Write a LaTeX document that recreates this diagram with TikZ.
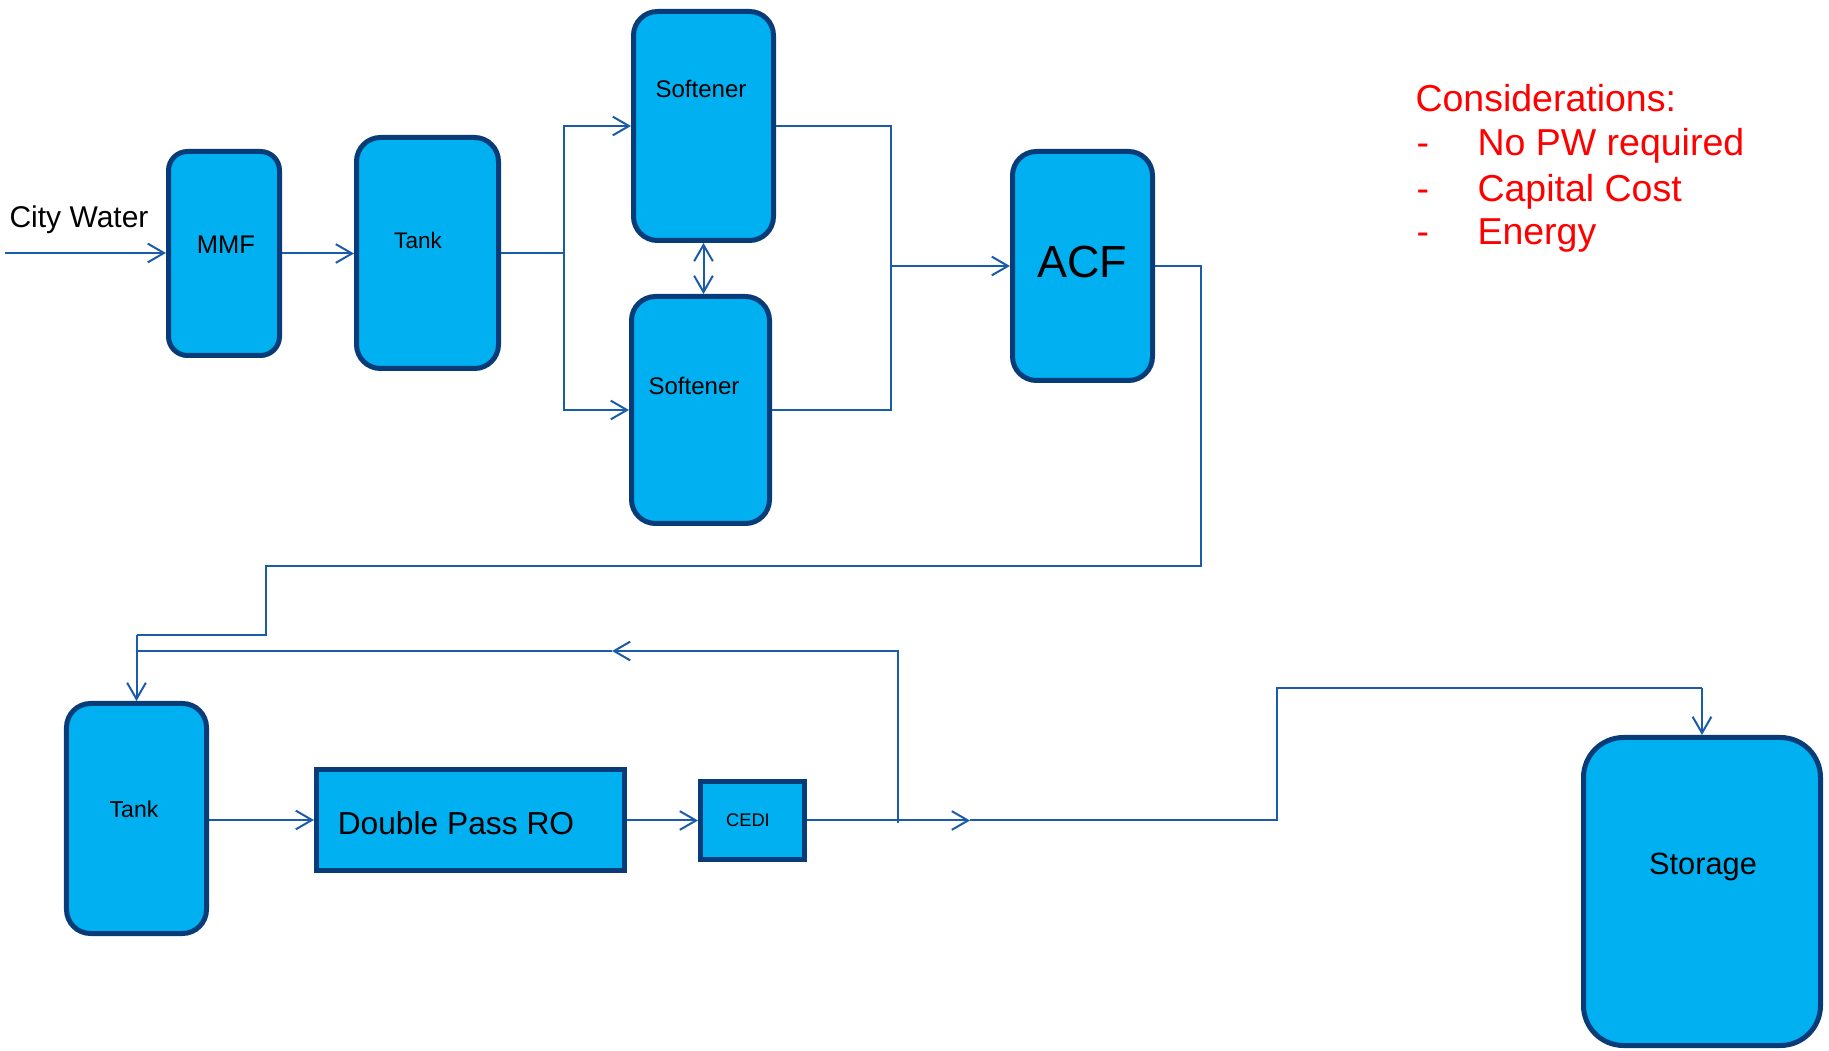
\documentclass[tikz,border=0pt]{standalone}
\usepackage{fontspec}
\setmainfont{Liberation Sans}
\usetikzlibrary{arrows.meta}
\definecolor{boxfill}{HTML}{00B0F0}
\definecolor{boxline}{HTML}{073C78}
\definecolor{connline}{HTML}{1A5CA8}
\definecolor{notered}{HTML}{FF0000}
\tikzset{
  vessel/.style={draw=boxline, fill=boxfill, line width=2pt, inner sep=0pt, rounded corners=9.6pt},
  block/.style={draw=boxline, fill=boxfill, line width=2pt, inner sep=0pt},
  conn/.style={draw=connline, line width=0.8pt},
  barb/.tip={Straight Barb[length=6.5pt,width=7.5pt]},
  flowarrow/.style={-barb},
  lbl/.style={anchor=base, inner sep=0pt, text=black},
  note/.style={anchor=base west, inner sep=0pt, text=notered, font=\fontsize{15}{18}\selectfont}
}
\begin{document}
\begin{tikzpicture}[x=0.4pt,y=-0.4pt]
\useasboundingbox (0,0) rectangle (1829,1051);

% vessels
\node[vessel, minimum width=44.4pt, minimum height=81.6pt, rounded corners=7.6pt] (mmf) at (224,253.5) {};
\node[vessel, minimum width=56.8pt, minimum height=92.4pt] (tank1) at (427.5,253) {};
\node[vessel, minimum width=56pt, minimum height=91.6pt] (soft1) at (703.5,126) {};
\node[vessel, minimum width=55.2pt, minimum height=90.8pt] (soft2) at (700.5,410) {};
\node[vessel, minimum width=56pt, minimum height=91.6pt] (acf) at (1082.5,266) {};
\node[vessel, minimum width=56pt, minimum height=92pt] (tank2) at (136.5,818.5) {};
\node[block, minimum width=123.2pt, minimum height=40.4pt] (dpro) at (470.5,820) {};
\node[block, minimum width=41.6pt, minimum height=31.2pt] (cedi) at (752.5,820.5) {};
\node[vessel, minimum width=94.8pt, minimum height=123.2pt, rounded corners=16pt] (storage) at (1702,891.5) {};

% labels
\node[lbl, font=\fontsize{12}{14}\selectfont] (cwt) at (79,228) {City Water};
\node[lbl, font=\fontsize{10.2}{12}\selectfont] (mmft) at (226,254) {MMF};
\node[lbl, font=\fontsize{9}{11}\selectfont] (tank1t) at (418,249) {Tank};
\node[lbl, font=\fontsize{9.6}{11}\selectfont] (soft1t) at (701,98) {Softener};
\node[lbl, font=\fontsize{9.6}{11}\selectfont] (soft2t) at (694,395) {Softener};
\node[lbl, font=\fontsize{18}{21}\selectfont] (acft) at (1082,278) {ACF};
\node[lbl, font=\fontsize{9.2}{11}\selectfont] (tank2t) at (134,818) {Tank};
\node[lbl, font=\fontsize{12.7}{15}\selectfont] (dprot) at (456,835) {Double Pass RO};
\node[lbl, font=\fontsize{7.3}{9}\selectfont] (cedit) at (748,827) {CEDI};
\node[lbl, font=\fontsize{12.3}{14}\selectfont] (storaget) at (1703,875) {Storage};

% considerations
\node[note] (cons) at (1415,112) {Considerations:};
\node[note] (d1) at (1416,156) {-};
\node[note] (i1) at (1477,156) {No PW required};
\node[note] (d2) at (1416,202) {-};
\node[note] (i2) at (1477,202) {Capital Cost};
\node[note] (d3) at (1416,245) {-};
\node[note] (i3) at (1477,245) {Energy};

% connectors, first line
\coordinate (cw) at (5,253);
\draw[conn,flowarrow] (cw) -- (cw -| mmf.west);
\draw[conn,flowarrow] (mmf.east) -- (mmf.east -| tank1.west);
\coordinate (sp) at (564,253);
\draw[conn] (tank1.east) -- (sp);
\draw[conn,flowarrow] (sp) |- (soft1.west);
\draw[conn,flowarrow] (sp) |- (soft2.west);
\draw[conn,barb-barb] (soft1.south) -- (soft1.south |- soft2.north);
\coordinate (jn) at (891,266);
\draw[conn] (soft1.east) -| (jn);
\draw[conn] (soft2.east) -| (jn);
\draw[conn,flowarrow] (jn) -- (acf.west);

% ACF to tank
\coordinate (a1) at (1201,266);
\coordinate (a2) at (1201,566);
\coordinate (a3) at (266,566);
\coordinate (a4) at (266,635);
\coordinate (a5) at (136.5,635);
\draw[conn] (acf.east) -- (a1) -- (a2) -- (a3) -- (a4) -- (a5);
\draw[conn,flowarrow] (a5) -- (tank2.north);

% recycle
\coordinate (r0) at (898,823);
\coordinate (r1) at (898,651);
\coordinate (ra) at (612,651);
\coordinate (rj) at (136.5,651);
\draw[conn,flowarrow] (r0) -- (r1) -- (ra);
\draw[conn] (ra) -- (rj);

% second line
\draw[conn,flowarrow] (tank2.east |- dpro.west) -- (dpro.west);
\draw[conn,flowarrow] (dpro.east |- cedi.west) -- (cedi.west);
\coordinate (m1) at (970,820.5);
\coordinate (o1) at (1277,820.5);
\coordinate (o2) at (1277,688);
\coordinate (o3) at (1702,688);
\draw[conn,flowarrow] (cedi.east) -- (m1);
\draw[conn] (m1) -- (o1) -- (o2) -- (o3);
\draw[conn,flowarrow] (o3) -- (storage.north);
\end{tikzpicture}
\end{document}
